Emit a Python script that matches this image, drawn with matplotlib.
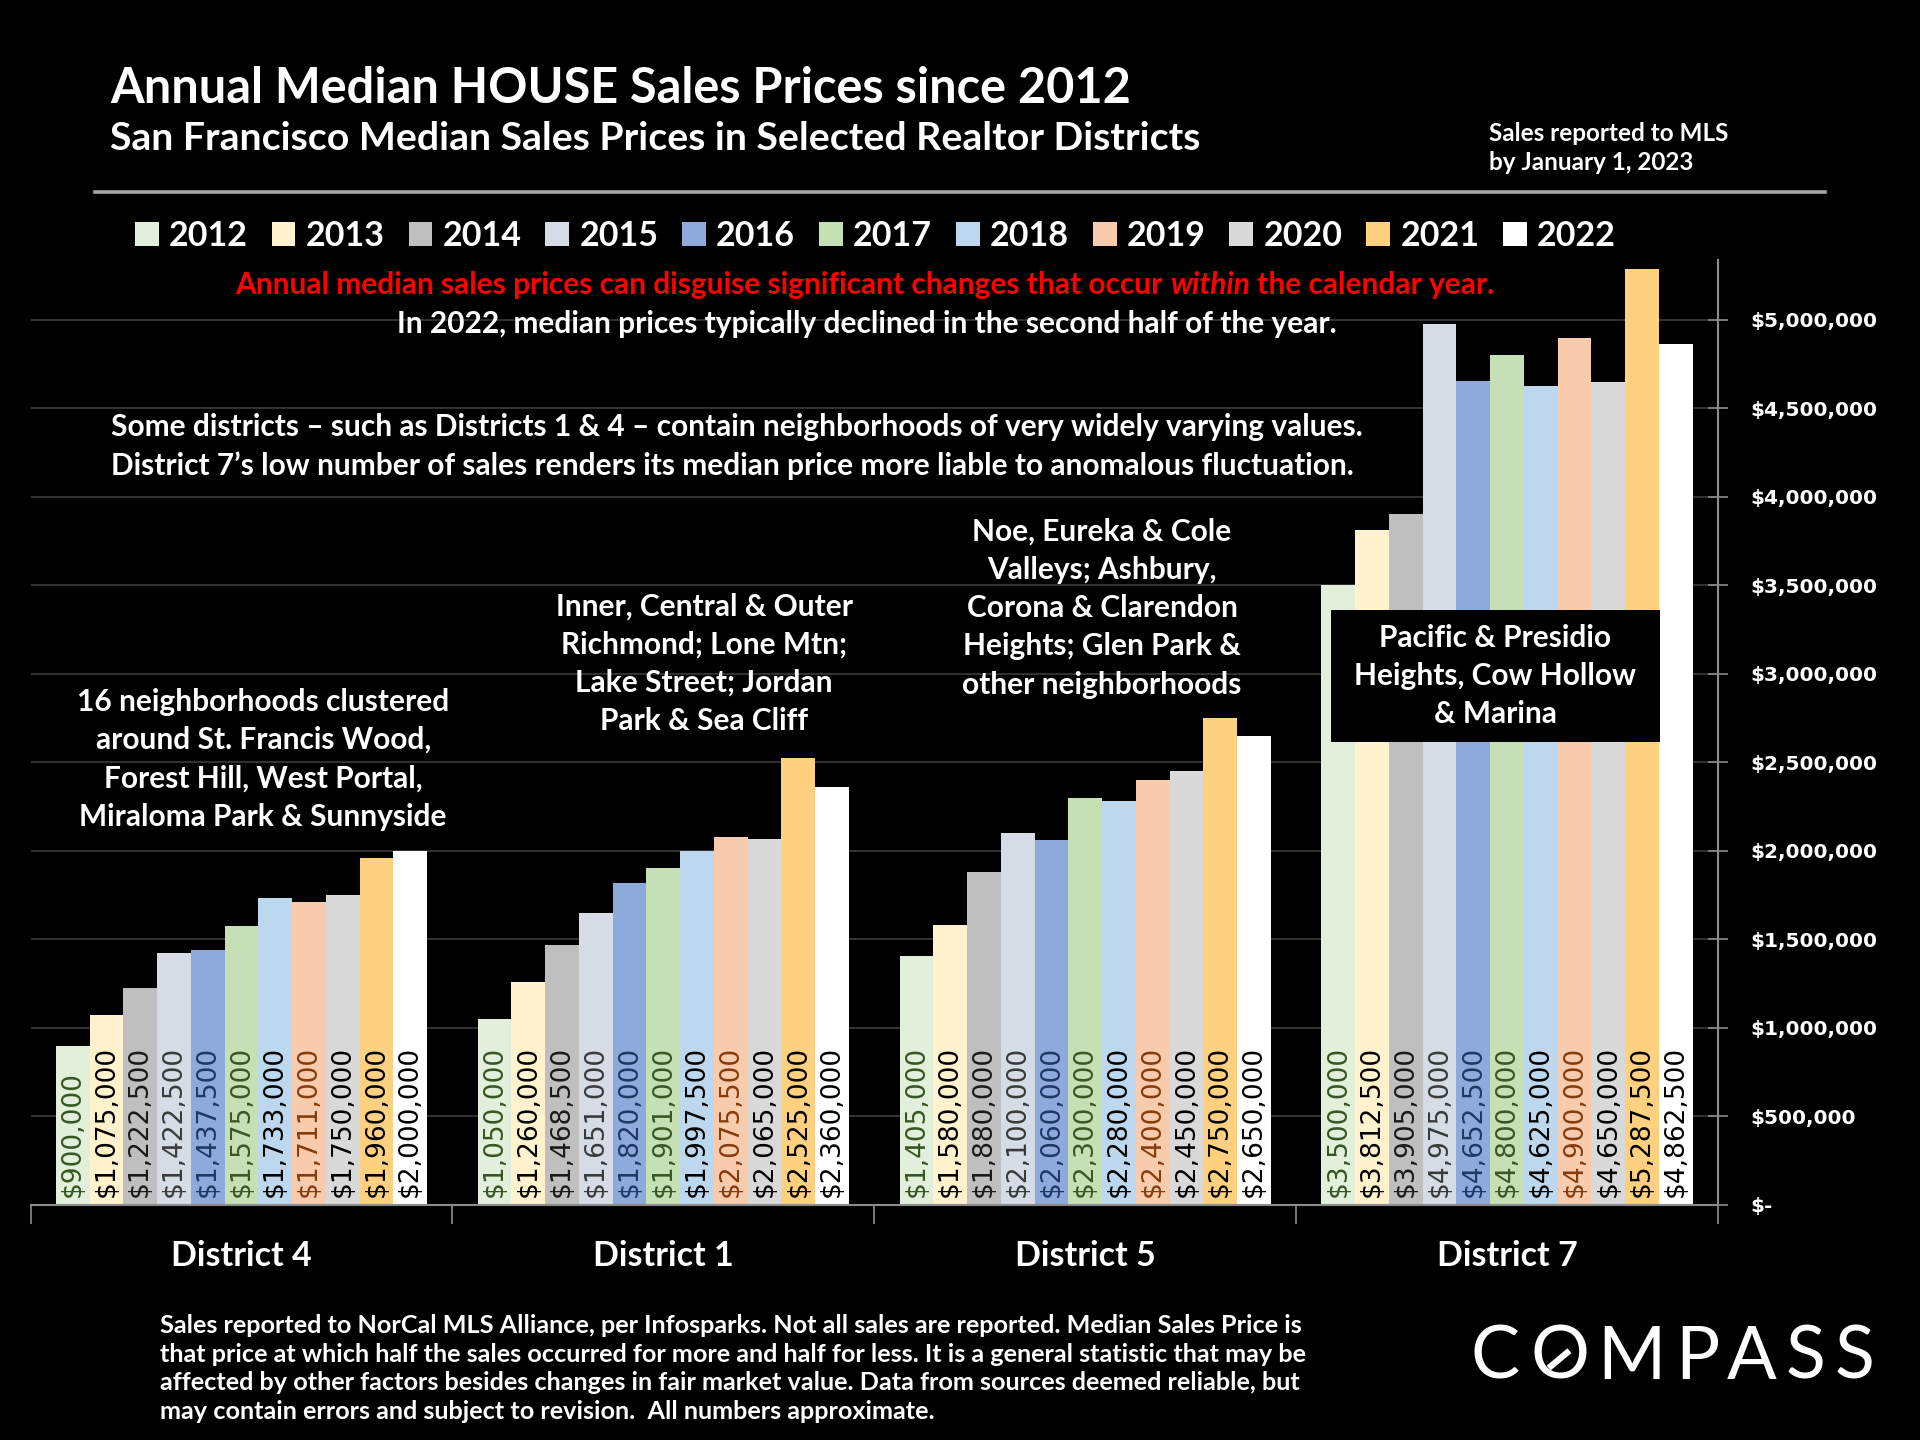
"""Annual median house sales prices, selected San Francisco realtor districts."""
import matplotlib
matplotlib.use("Agg")
import matplotlib.pyplot as plt
from matplotlib.lines import Line2D
from matplotlib.patches import Patch, Rectangle
from matplotlib.ticker import FuncFormatter, MultipleLocator
import numpy as np

# Data
districts = ["District 4", "District 1", "District 5", "District 7"]
years = ["2012", "2013", "2014", "2015", "2016", "2017",
         "2018", "2019", "2020", "2021", "2022"]
district_4 = [900000, 1075000, 1222500, 1422500, 1437500, 1575000,
              1733000, 1711000, 1750000, 1960000, 2000000]
district_1 = [1050000, 1260000, 1468500, 1651000, 1820000, 1901000,
              1997500, 2075500, 2065000, 2525000, 2360000]
district_5 = [1405000, 1580000, 1880000, 2100000, 2060000, 2300000,
              2280000, 2400000, 2450000, 2750000, 2650000]
district_7 = [3500000, 3812500, 3905000, 4975000, 4652500, 4800000,
              4625000, 4900000, 4650000, 5287500, 4862500]

bar_colors = ["#E2EFDA", "#FFF2CC", "#BFBFBF", "#D6DCE5", "#8EA9DB", "#C5E0B4",
              "#BDD7EE", "#F8CBAD", "#D9D9D9", "#FFD07F", "#FFFFFF"]
label_colors = ["#375623", "#000000", "#1A1A1A", "#3A3A3A", "#1F3864", "#385723",
                "#000000", "#843C0C", "#000000", "#000000", "#000000"]

FONT = "Lato"
NUM_FONT = "DejaVu Sans"
BODY = 21.5

values = np.array([district_4, district_1, district_5, district_7])

fig = plt.figure(figsize=(19.2, 14.4), dpi=100, facecolor="black")
ax = fig.add_axes([0.0159, 0.1633, 0.8789, 0.6564])
ax.set_facecolor("black")

width = 0.08
x = np.arange(len(districts))
for i, year in enumerate(years):
    pos = x + (i - 5) * width
    ax.bar(pos, values[:, i], width=width, color=bar_colors[i], zorder=2, label=year)
    for px, v in zip(pos, values[:, i]):
        ax.annotate(f"${v:,.0f}", xy=(px, 0), xytext=(0, 6), textcoords="offset points",
                    rotation=90, ha="center", va="bottom", fontsize=19,
                    family=NUM_FONT, color=label_colors[i], zorder=3)

ax.set_xlim(-0.5, 3.5)
ax.set_ylim(0, 5.34e6)

# axes styling
for s in ["left", "top"]:
    ax.spines[s].set_visible(False)
ax.spines["bottom"].set_color("#8C8C8C")
ax.spines["right"].set_color("#8C8C8C")
ax.spines["bottom"].set_linewidth(1.5)
ax.spines["right"].set_linewidth(1.5)

ax.yaxis.tick_right()
ax.yaxis.set_major_locator(MultipleLocator(500000))
ax.yaxis.set_major_formatter(FuncFormatter(lambda v, p: "$-" if v == 0 else f"${v:,.0f}"))
ax.tick_params(axis="y", direction="inout", length=14, width=1.2, color="#8C8C8C",
               pad=16, labelcolor="white", labelsize=14.5)
for lbl in ax.get_yticklabels():
    lbl.set_fontweight("bold")
    lbl.set_family(NUM_FONT)
ax.grid(axis="y", color="#3A3A3A", linewidth=1.2, zorder=0)
ax.set_axisbelow(True)

ax.set_xticks(x)
ax.set_xticklabels(districts, fontsize=24.5, fontweight="bold", color="white", family=FONT)
ax.tick_params(axis="x", length=0, pad=25)
ax.set_xticks(np.arange(-0.5, 4.0, 1.0), minor=True)
ax.tick_params(axis="x", which="minor", length=14, width=1.2, color="#8C8C8C", direction="out")

# legend
handles = [Patch(facecolor=c, edgecolor="none") for c in bar_colors]
leg = fig.legend(handles, years, loc="center", bbox_to_anchor=(0.456, 0.836), ncol=11,
                 frameon=False, handlelength=0.7, handleheight=0.7, handletextpad=0.3,
                 columnspacing=0.7, prop={"family": FONT, "weight": "bold", "size": 24.5})
for t in leg.get_texts():
    t.set_color("white")

# titles
fig.text(0.0574, 0.9388, "Annual Median HOUSE Sales Prices since 2012", color="white",
         fontsize=35, fontweight="bold", family=FONT, va="center", ha="left")
fig.text(0.0574, 0.9039, "San Francisco Median Sales Prices in Selected Realtor Districts",
         color="white", fontsize=28.3, fontweight="bold", family=FONT, va="center", ha="left")
fig.text(0.7755, 0.8971, "Sales reported to MLS\nby January 1, 2023", color="white",
         fontsize=17.5, fontweight="bold", family=FONT, va="center", ha="left", linespacing=1.3)
fig.add_artist(Line2D([0.0497, 0.9503], [0.8665, 0.8665], color="#A6A6A6", linewidth=2.6))

# notes
red = "#FF0000"
t1 = fig.text(0.1224, 0.8019, "Annual median sales prices can disguise significant changes that occur ",
              color=red, fontsize=BODY, fontweight="bold", family=FONT, va="center", ha="left")
t2 = fig.text(0, 0, "within", color=red, fontsize=BODY, fontweight="bold", style="italic",
              family=FONT, va="bottom", ha="left")
t3 = fig.text(0, 0, " the calendar year.", color=red, fontsize=BODY, fontweight="bold",
              family=FONT, va="bottom", ha="left")
fig.canvas.draw()
r = fig.canvas.get_renderer()
bb1 = t1.get_window_extent(r)
t2.set_position(fig.transFigure.inverted().transform((bb1.x1, bb1.y0)))
fig.canvas.draw()
bb2 = t2.get_window_extent(r)
t3.set_position(fig.transFigure.inverted().transform((bb2.x1, bb1.y0)))

fig.text(0.4515, 0.7747, "In 2022, median prices typically declined in the second half of the year.",
         color="white", fontsize=BODY, fontweight="bold", family=FONT, va="center", ha="center")
fig.text(0.058, 0.69,
         "Some districts \u2013 such as Districts 1 & 4 \u2013 contain neighborhoods of very widely varying values.\n"
         "District 7\u2019s low number of sales renders its median price more liable to anomalous fluctuation.",
         color="white", fontsize=BODY, fontweight="bold", family=FONT, va="center", ha="left",
         linespacing=1.45)

area_notes = [
    (0.1371, 0.4728, "16 neighborhoods clustered\naround St. Francis Wood,\nForest Hill, West Portal,\nMiraloma Park & Sunnyside"),
    (0.3667, 0.5391, "Inner, Central & Outer\nRichmond; Lone Mtn;\nLake Street; Jordan\nPark & Sea Cliff"),
    (0.5740, 0.5778, "Noe, Eureka & Cole\nValleys; Ashbury,\nCorona & Clarendon\nHeights; Glen Park &\nother neighborhoods"),
    (0.7787, 0.5306, "Pacific & Presidio\nHeights, Cow Hollow\n& Marina"),
]
fig.add_artist(Rectangle((0.6932, 0.4847), 0.1716, 0.0918, transform=fig.transFigure,
                         facecolor="black", edgecolor="none", zorder=5))
for nx, ny, txt in area_notes:
    fig.text(nx, ny, txt, color="white", fontsize=BODY, fontweight="bold", family=FONT,
             va="center", ha="center", multialignment="center", linespacing=1.45, zorder=6)

fig.text(0.0835, 0.0497,
         "Sales reported to NorCal MLS Alliance, per Infosparks. Not all sales are reported. Median Sales Price is\n"
         "that price at which half the sales occurred for more and half for less. It is a general statistic that may be\n"
         "affected by other factors besides changes in fair market value. Data from sources deemed reliable, but\n"
         "may contain errors and subject to revision.  All numbers approximate.",
         color="white", fontsize=18.2, fontweight="bold", family=FONT, va="center", ha="left",
         linespacing=1.3)

# logo
for lx, ch in zip([0.7786, 0.8125, 0.8495, 0.8839, 0.9125, 0.9406, 0.9661], "COMPASS"):
    fig.text(lx, 0.0569, ch, color="white", fontsize=53, family=FONT, va="center", ha="center")
fig.add_artist(Line2D([0.8066, 0.8174], [0.0500, 0.0620], color="white", linewidth=4.5,
                      solid_capstyle="butt"))

fig.savefig("out.png", dpi=100, facecolor="black")
